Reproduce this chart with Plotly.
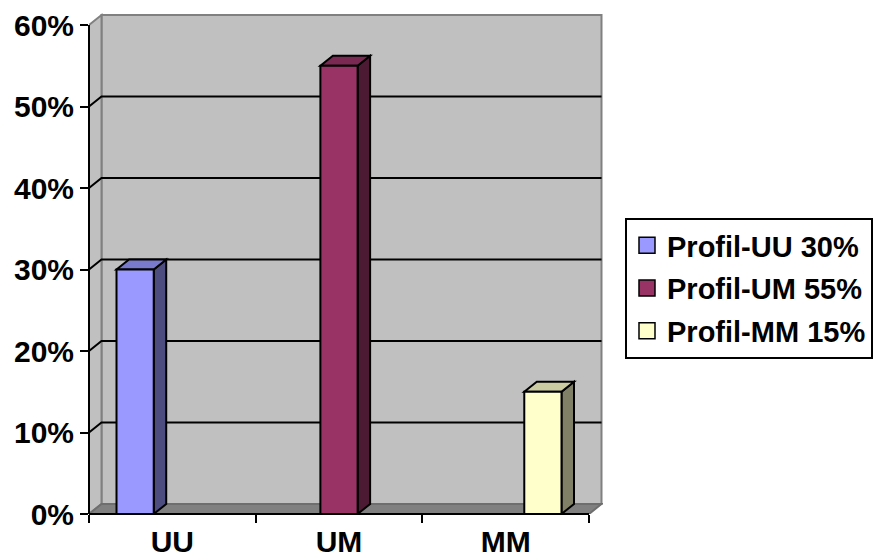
import plotly.graph_objects as go

# Data
categories = ["UU", "UM", "MM"]
series_names = ["Profil-UU 30%", "Profil-UM 55%", "Profil-MM 15%"]
shares = [0.30, 0.55, 0.15]
y_ticks = [0, 0.1, 0.2, 0.3, 0.4, 0.5, 0.6]

# Face colours of each 3-D column (front, top, right side)
front_colors = ["#9999FF", "#993366", "#FFFFCC"]
top_colors = ["#7A7ACC", "#7A2952", "#CCCCA3"]
side_colors = ["#4D4D80", "#4D1A33", "#808066"]

FONT = "Liberation Sans, Arial, sans-serif"
BARGAP = 0.33
DX = 0.075     # depth of the box, x units
DY = 0.0123    # depth of the box, y units
X_LO, X_HI = -0.5, len(categories) - 0.5
Y_TOP = y_ticks[-1]

n_series = len(series_names)
slot = (1 - BARGAP) / n_series          # width of one column
fig = go.Figure()

# Front faces of the columns: series i sits in slot i of its own category
for i, (cat, name, v, fc) in enumerate(zip(categories, series_names, shares, front_colors)):
    shift = (i - (n_series - 1) / 2) * slot
    fig.add_trace(go.Bar(
        x=[cat], y=[v], name=name, showlegend=False,
        width=slot, offset=shift - slot / 2,
        marker=dict(color=fc, line=dict(color="black", width=2)),
        hovertemplate="%{x}: %{y:.0%}<extra>" + name + "</extra>",
    ))

# Legend entries with larger square swatches
for name, fc in zip(series_names, front_colors):
    fig.add_trace(go.Scatter(
        x=[None], y=[None], mode="markers", name=name, legendgroup=name,
        marker=dict(symbol="square", size=16, color=fc, line=dict(color="black", width=1.5)),
    ))

shapes = []


def poly(pts):
    return "M" + " L".join(f"{x},{y}" for x, y in pts) + " Z"


# Back wall
shapes.append(dict(type="rect", xref="x", yref="y", layer="below",
                   x0=X_LO + DX, x1=X_HI + DX, y0=DY, y1=Y_TOP + DY,
                   fillcolor="#C0C0C0", line=dict(color="#808080", width=2)))
# Left side wall
shapes.append(dict(type="path", xref="x", yref="y", layer="below",
                   path=poly([(X_LO, 0), (X_LO, Y_TOP), (X_LO + DX, Y_TOP + DY), (X_LO + DX, DY)]),
                   fillcolor="#C0C0C0", line=dict(color="#808080", width=2)))
# Floor
shapes.append(dict(type="path", xref="x", yref="y", layer="below",
                   path=poly([(X_LO, 0), (X_HI, 0), (X_HI + DX, DY), (X_LO + DX, DY)]),
                   fillcolor="#808080", line=dict(color="#6E6E6E", width=2)))
# Gridlines on the side and back walls
for t in y_ticks[1:-1]:
    shapes.append(dict(type="path", xref="x", yref="y", layer="below",
                       path=f"M{X_LO},{t} L{X_LO + DX},{t + DY} L{X_HI + DX},{t + DY}",
                       line=dict(color="black", width=2)))

# Top and side faces of each column
for i, v in enumerate(shares):
    xc = i + (i - (n_series - 1) / 2) * slot
    xl, xr = xc - slot / 2, xc + slot / 2
    shapes.append(dict(type="path", xref="x", yref="y", layer="below",
                       path=poly([(xr, 0), (xr, v), (xr + DX, v + DY), (xr + DX, DY)]),
                       fillcolor=side_colors[i], line=dict(color="black", width=2)))
    shapes.append(dict(type="path", xref="x", yref="y", layer="below",
                       path=poly([(xl, v), (xr, v), (xr + DX, v + DY), (xl + DX, v + DY)]),
                       fillcolor=top_colors[i], line=dict(color="black", width=2)))

# Front axis lines
shapes.append(dict(type="line", xref="x domain", yref="y", layer="above",
                   x0=0, x1=0, y0=0, y1=Y_TOP, line=dict(color="black", width=2)))
shapes.append(dict(type="line", xref="x", yref="y domain", layer="above",
                   x0=X_LO, x1=X_HI, y0=0, y1=0, line=dict(color="black", width=2)))

fig.update_layout(
    template="none",
    width=884, height=560,
    margin=dict(l=89, r=281, t=12, b=46, autoexpand=False),
    paper_bgcolor="white", plot_bgcolor="white",
    barmode="overlay",
    shapes=shapes,
    xaxis=dict(
        type="category", categoryorder="array", categoryarray=categories,
        range=[-0.5, 2.584], tickson="boundaries",
        ticks="outside", ticklen=8, tickwidth=2, tickcolor="black",
        ticklabelstandoff=7,
        showline=False, showgrid=False, zeroline=False, automargin=False,
        tickfont=dict(family=FONT, size=30, color="black", weight="bold"),
        fixedrange=True,
    ),
    yaxis=dict(
        range=[0, 0.616], tickvals=y_ticks, tickformat=".0%",
        ticks="outside", ticklen=8, tickwidth=2, tickcolor="black",
        showline=False, showgrid=False, zeroline=False, automargin=False,
        tickfont=dict(family=FONT, size=30, color="black", weight="bold"),
        fixedrange=True,
    ),
    showlegend=True,
    legend=dict(
        x=1.0428, y=0.5896, xanchor="left", yanchor="top",
        bgcolor="white", bordercolor="black", borderwidth=2,
        font=dict(family=FONT, size=29, color="black", weight="bold"),
        tracegroupgap=2,
    ),
)

fig.write_html("out.html")
